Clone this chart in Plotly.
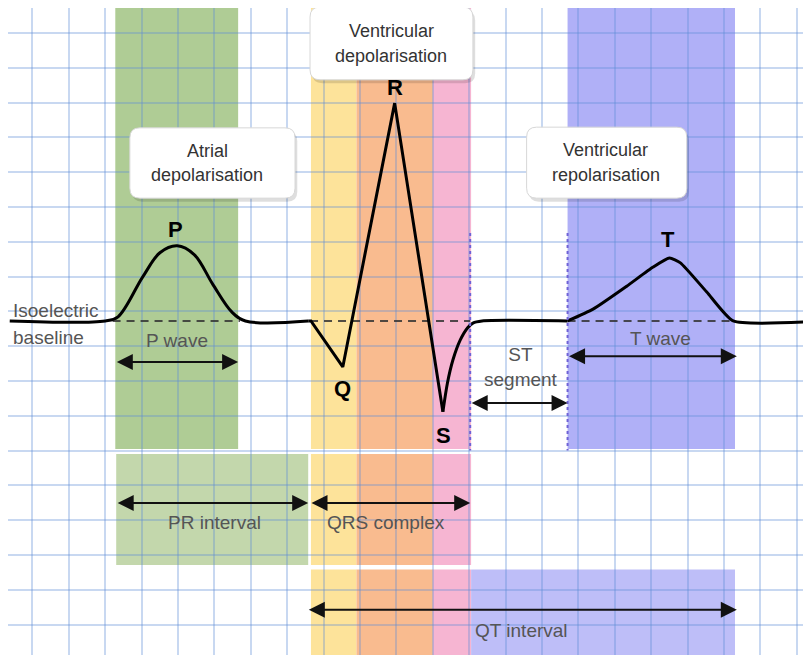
import plotly.graph_objects as go

# ---------------- data (time in ms: 1 grid square = 40 ms; amplitude in mV: 1 square = 0.1 mV)
p_t = [-25, 80, 94, 121, 140, 159, 178, 198, 219, 234, 303]
p_mv = [0, 0, 0.012, 0.126, 0.196, 0.216, 0.190, 0.106, 0.026, 0, 0]

qrs_t = [303, 306, 341, 398, 451]
qrs_mv = [0, 0, -0.132, 0.626, -0.261]

st_t = [451, 456, 462, 470, 478, 484, 494, 588]
st_mv = [-0.261, -0.178, -0.112, -0.055, -0.020, -0.006, 0, 0]

t_t = [588, 616, 653, 682, 700, 712, 741, 770, 870]
t_mv = [0, 0.034, 0.100, 0.155, 0.181, 0.167, 0.083, 0, 0]

# waves (coloured columns) and their peak labels
wave_names = ["P", "Q", "R", "S", "T"]
wave_start = [91, 306, 356, 440, 588]
wave_end = [226, 356, 440, 482, 772]
peak_t = [157, 341, 398, 452, 698]
peak_mv = [0.264, -0.193, 0.672, -0.330, 0.233]

# intervals (double arrows)
interval_names = ["P wave", "T wave", "ST<br>segment", "PR interval", "QRS complex", "QT interval"]
interval_start = [91, 588, 481, 92, 305, 302]
interval_end = [226, 774, 588, 303, 481, 774]

# isoelectric (dashed) baseline spans
baseline_start = [88, 305, 588]
baseline_end = [228, 481, 772]

# ---------------- styling
FONT = "Liberation Sans, Arial, Helvetica, sans-serif"
wave_colors = {"P": "#afcc95", "Q": "#fde39a", "R": "#f9bb8f", "S": "#f6b5d2", "T": "#b0b0f7"}
pr_color = "#c3d7ac"
qt_color = "#bebef8"
GRID = "rgba(95,140,215,0.34)"

X_RANGE = [-26.9, 864.3]
Y_RANGE = [-0.9828, 0.8994]
TOP, BOT = 1.2, -1.2
ROW1_BOT, ROW2_TOP, ROW2_BOT, ROW3_TOP = -0.368, -0.382, -0.701, -0.714

fig = go.Figure()
shapes = []
annotations = []

def rect(x0, x1, y0, y1, color):
    shapes.append(dict(type="rect", xref="x", yref="y", x0=x0, x1=x1, y0=y0, y1=y1,
                       fillcolor=color, line=dict(width=0), layer="below"))

# upper row: each wave column
for n, s, e in zip(wave_names, wave_start, wave_end):
    rect(s, e, ROW1_BOT, TOP, wave_colors[n])
# middle row: PR interval + QRS columns
rect(interval_start[3], interval_end[3], ROW2_BOT, ROW2_TOP, pr_color)
for n, s, e in zip(wave_names, wave_start, wave_end):
    if n in ("Q", "R", "S"):
        rect(s, e, ROW2_BOT, ROW2_TOP, wave_colors[n])
        rect(s, e, BOT, ROW3_TOP, wave_colors[n])
# bottom row: QT interval remainder
rect(wave_end[3], interval_end[5] - 2, BOT, ROW3_TOP, qt_color)

# dotted ST-segment limits
for xv in (interval_start[2], interval_end[2]):
    shapes.append(dict(type="line", xref="x", yref="y", x0=xv, x1=xv, y0=0.253, y1=-0.372,
                       line=dict(color="#6f62d6", width=2, dash="dot"), layer="above"))

# dashed baselines
for s, e in zip(baseline_start, baseline_end):
    fig.add_trace(go.Scatter(x=[s, e], y=[0, 0], mode="lines",
                             line=dict(color="rgba(50,50,50,0.85)", width=2, dash="8px,6px"),
                             hoverinfo="skip", showlegend=False))

# ECG trace
fig.add_trace(go.Scatter(x=p_t, y=p_mv, mode="lines", line=dict(color="black", width=3, shape="spline", smoothing=1.0),
                         showlegend=False, hoverinfo="skip"))
fig.add_trace(go.Scatter(x=qrs_t, y=qrs_mv, mode="lines", line=dict(color="black", width=3),
                         showlegend=False, hoverinfo="skip"))
fig.add_trace(go.Scatter(x=st_t, y=st_mv, mode="lines", line=dict(color="black", width=3, shape="spline", smoothing=0.8),
                         showlegend=False, hoverinfo="skip"))
fig.add_trace(go.Scatter(x=t_t, y=t_mv, mode="lines", line=dict(color="black", width=3, shape="spline", smoothing=0.5),
                         showlegend=False, hoverinfo="skip"))

# rounded label boxes
def rbox(x0, x1, y0, y1, rx=11, ry=0.0287):
    return (f"M{x0+rx},{y1} L{x1-rx},{y1} Q{x1},{y1} {x1},{y1-ry} L{x1},{y0+ry} "
            f"Q{x1},{y0} {x1-rx},{y0} L{x0+rx},{y0} Q{x0},{y0} {x0},{y0+ry} "
            f"L{x0},{y1-ry} Q{x0},{y1} {x0+rx},{y1} Z")

boxes = [
    (107, 288.5, 0.353, 0.555, ["Atrial", "depolarisation"], 192),
    (305, 484, 0.693, 0.902, ["Ventricular", "depolarisation"], 394),
    (543, 719, 0.353, 0.557, ["Ventricular", "repolarisation"], 630),
]
for x0, x1, y0, y1, lines, cx in boxes:
    shapes.append(dict(type="path", xref="x", yref="y", path=rbox(x0 + 2.5, x1 + 2.5, y0 - 0.010, y1 - 0.010),
                       fillcolor="rgba(0,0,0,0.13)", line=dict(width=0), layer="above"))
    shapes.append(dict(type="path", xref="x", yref="y", path=rbox(x0, x1, y0, y1),
                       fillcolor="white", line=dict(color="rgba(215,215,215,1)", width=1), layer="above"))
    cy = (y0 + y1) / 2
    annotations.append(dict(x=cx, y=cy + 0.035, text=lines[0], showarrow=False, xref="x", yref="y",
                            font=dict(family=FONT, size=18, color="#333333")))
    annotations.append(dict(x=cx, y=cy - 0.035, text=lines[1], showarrow=False, xref="x", yref="y",
                            font=dict(family=FONT, size=18, color="#333333")))

# peak letters
for n, x, y in zip(wave_names, peak_t, peak_mv):
    annotations.append(dict(x=x, y=y, text=f"<b>{n}</b>", showarrow=False, xref="x", yref="y",
                            font=dict(family=FONT, size=22, color="black")))

# interval arrows and labels
arrow_y = [-0.118, -0.101, -0.236, -0.523, -0.523, -0.830]
label_pos = [(159, -0.055), (690, -0.049), (537, -0.131), (200, -0.578), (389, -0.580), (537, -0.888)]
for name, s, e, ay, (lx, ly) in zip(interval_names, interval_start, interval_end, arrow_y, label_pos):
    annotations.append(dict(x=e, y=ay, ax=s, ay=ay, xref="x", yref="y", axref="x", ayref="y",
                            text="", showarrow=True, arrowhead=2, startarrowhead=2,
                            arrowside="end+start", arrowsize=1.6, startarrowsize=1.6,
                            arrowwidth=2, arrowcolor="#111111", standoff=0, startstandoff=0))
    annotations.append(dict(x=lx, y=ly, text=name, showarrow=False, xref="x", yref="y",
                            font=dict(family=FONT, size=19, color="#555555")))

annotations.append(dict(x=-24, y=0.029, text="Isoelectric", showarrow=False, xref="x", yref="y",
                        xanchor="left", font=dict(family=FONT, size=19, color="#555555")))
annotations.append(dict(x=-24, y=-0.046, text="baseline", showarrow=False, xref="x", yref="y",
                        xanchor="left", font=dict(family=FONT, size=19, color="#555555")))

fig.update_layout(
    width=811, height=655,
    margin=dict(l=0, r=0, t=0, b=0),
    paper_bgcolor="white", plot_bgcolor="white",
    shapes=shapes, annotations=annotations,
    showlegend=False,
    xaxis=dict(range=X_RANGE, showgrid=True, gridcolor=GRID, gridwidth=2,
               tick0=0, dtick=40, showticklabels=False, ticks="", zeroline=False, showline=False,
               fixedrange=True),
    yaxis=dict(range=Y_RANGE, showgrid=True, gridcolor=GRID, gridwidth=2,
               tick0=0.0276, dtick=0.1, showticklabels=False, ticks="", zeroline=False, showline=False,
               fixedrange=True),
)

fig.write_html("out.html")
